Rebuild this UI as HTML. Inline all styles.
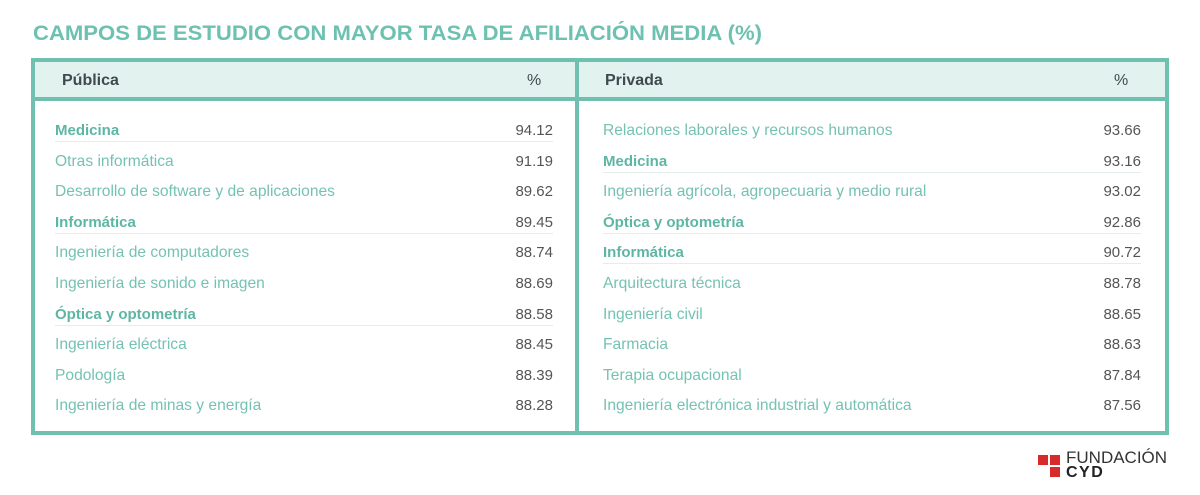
<!DOCTYPE html>
<html><head><meta charset="utf-8"><style>
body{margin:0;width:1200px;height:495px;background:#fff;position:relative;overflow:hidden;font-family:"Liberation Sans",sans-serif}
.abs{position:absolute;white-space:nowrap}
#title{left:33px;top:22px;font-size:21px;font-weight:bold;color:#6dc1b1;transform-origin:0 0}
#frame{left:31px;top:58px;width:1130px;height:369px;border:4px solid #6fc0b0}
#hdr{left:35px;top:62px;width:1130px;height:35px;background:#e2f3ef;border-bottom:4px solid #6fc0b0}
#div{left:575px;top:62px;width:4px;height:369px;background:#6fc0b0}
.h{font-size:16px;font-weight:bold;color:#3f4a4e;top:72px}
.n{font-size:15.6px;color:#74c2b3}
.n.b{font-weight:bold;color:#5db6a4;font-size:15px}
.v{font-size:15px;color:#555;text-align:right}
.u{height:1px;background:#e6ecea}
</style></head><body>
<div id="title" class="abs">CAMPOS DE ESTUDIO CON MAYOR TASA DE AFILIACIÓN MEDIA (%)</div>
<div id="frame" class="abs"></div>
<div id="hdr" class="abs"></div>
<div id="div" class="abs"></div>
<div class="abs h" style="left:62px">Pública</div>
<div class="abs h" style="left:527px;font-weight:normal">%</div>
<div class="abs h" style="left:605px">Privada</div>
<div class="abs h" style="left:1114px;font-weight:normal">%</div>
<div id="rows"></div>
<div class="abs" style="left:1038px;top:455px;width:10px;height:10px;background:#d82a2a"></div>
<div class="abs" style="left:1050px;top:455px;width:10px;height:10px;background:#d82a2a"></div>
<div class="abs" style="left:1050px;top:467px;width:10px;height:10px;background:#d82a2a"></div>
<div class="abs" style="left:1066px;top:448px;font-size:17px;color:#333">FUNDACIÓN</div>
<div class="abs" style="left:1066px;top:464px;font-size:16px;font-weight:bold;color:#222;letter-spacing:1.5px">CYD</div>
<script>
const pubNames=["Medicina","Otras informática","Desarrollo de software y de aplicaciones","Informática","Ingeniería de computadores","Ingeniería de sonido e imagen","Óptica y optometría","Ingeniería eléctrica","Podología","Ingeniería de minas y energía"];
const pubValues=[94.12,91.19,89.62,89.45,88.74,88.69,88.58,88.45,88.39,88.28];
const pubBold=[1,0,0,1,0,0,1,0,0,0];
const privNames=["Relaciones laborales y recursos humanos","Medicina","Ingeniería agrícola, agropecuaria y medio rural","Óptica y optometría","Informática","Arquitectura técnica","Ingeniería civil","Farmacia","Terapia ocupacional","Ingeniería electrónica industrial y automática"];
const privValues=[93.66,93.16,93.02,92.86,90.72,88.78,88.65,88.63,87.84,87.56];
const privBold=[0,1,0,1,1,0,0,0,0,0];
const t=document.getElementById('title');
t.style.transform='scaleX('+(729/t.getBoundingClientRect().width)+')';
const R=document.getElementById('rows');
function col(names,vals,bold,x0,x1,prefix){
  names.forEach((nm,i)=>{
    const y=122+i*30.6;
    const n=document.createElement('div');
    
    
    n.className='abs n'+(bold[i]?' b':'');
    n.style.left=x0+'px';n.style.top=y+'px';n.textContent=nm;R.appendChild(n);
    const v=document.createElement('div');
    
    
    v.className='abs v';
    v.style.left=(x1-80)+'px';v.style.width='80px';v.style.top=y+'px';v.textContent=vals[i].toFixed(2);R.appendChild(v);
    if(bold[i]){
      const u=document.createElement('div');
      
      
      u.className='abs u';
      u.style.left=x0+'px';u.style.width=(x1-x0)+'px';u.style.top=(y+19)+'px';R.appendChild(u);
    }
  });
}
col(pubNames,pubValues,pubBold,55,553,'publica');
col(privNames,privValues,privBold,603,1141,'privada');
</script>
</body></html>
